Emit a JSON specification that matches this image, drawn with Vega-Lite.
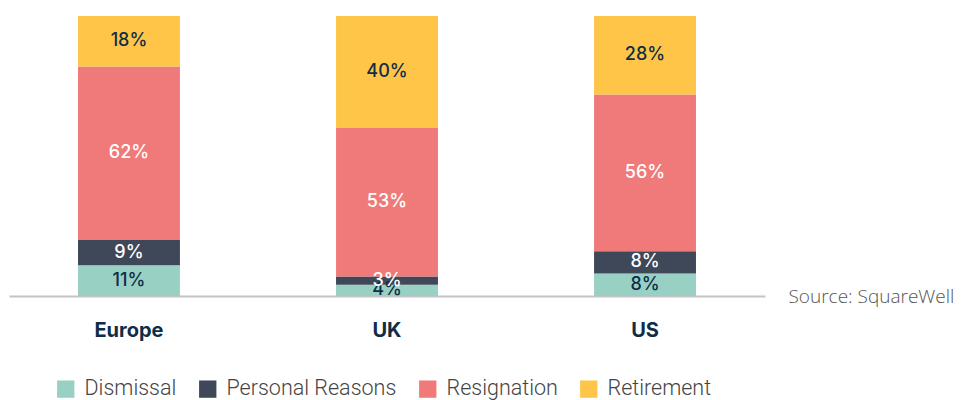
{
  "$schema": "https://vega.github.io/schema/vega-lite/v6.json",
  "width": 756,
  "height": 280,
  "autosize": "none",
  "padding": {"left": 9, "top": 16, "right": 197, "bottom": 104},
  "background": "white",
  "config": {"view": {"stroke": null}},
  "data": {
    "values": [
      {"region": "Europe", "category": "Dismissal", "value": 11},
      {"region": "Europe", "category": "Personal Reasons", "value": 9},
      {"region": "Europe", "category": "Resignation", "value": 62},
      {"region": "Europe", "category": "Retirement", "value": 18},
      {"region": "UK", "category": "Dismissal", "value": 4},
      {"region": "UK", "category": "Personal Reasons", "value": 3},
      {"region": "UK", "category": "Resignation", "value": 53},
      {"region": "UK", "category": "Retirement", "value": 40},
      {"region": "US", "category": "Dismissal", "value": 8},
      {"region": "US", "category": "Personal Reasons", "value": 8},
      {"region": "US", "category": "Resignation", "value": 56},
      {"region": "US", "category": "Retirement", "value": 28}
    ]
  },
  "transform": [
    {"stack": "value", "groupby": ["region"], "sort": [{"field": "category", "order": "ascending"}], "as": ["y0", "y1"]},
    {"calculate": "(datum.y0 + datum.y1) / 2", "as": "ymid"},
    {"calculate": "datum.value + '%'", "as": "label"}
  ],
  "encoding": {
    "x": {
      "field": "region",
      "type": "nominal",
      "sort": ["Europe", "UK", "US"],
      "scale": {"paddingInner": 0.605, "paddingOuter": 0.2675},
      "axis": {
        "title": "Source: SquareWell",
        "titleX": 779,
        "titleY": 0,
        "titleAlign": "left",
        "titleBaseline": "middle",
        "titleAnchor": null,
        "titleFont": "Open Sans",
        "titleFontSize": 19,
        "titleFontWeight": 300,
        "titleColor": "#555555",
        "labelAngle": 0,
        "labelFont": "Inter",
        "labelFontSize": 20,
        "labelFontWeight": "bold",
        "labelColor": "#0f2d47",
        "labelPadding": 24,
        "ticks": false,
        "domain": true,
        "domainColor": "#c4c4c4",
        "domainWidth": 2
      }
    }
  },
  "layer": [
    {
      "mark": {"type": "bar"},
      "encoding": {
        "y": {"field": "y0", "type": "quantitative", "scale": {"domain": [0, 100]}, "axis": null},
        "y2": {"field": "y1"},
        "color": {
          "field": "category",
          "type": "nominal",
          "scale": {
            "domain": ["Dismissal", "Personal Reasons", "Resignation", "Retirement"],
            "range": ["#98d0c4", "#3e4858", "#f07a7a", "#fec548"]
          },
          "legend": {
            "orient": "none",
            "legendX": 46,
            "legendY": 362,
            "direction": "horizontal",
            "title": null,
            "symbolType": "square",
            "symbolSize": 300,
            "symbolStrokeWidth": 0,
            "symbolOffset": 0,
            "labelOffset": 8,
            "labelLimit": 0,
            "labelFont": "Roboto",
            "labelFontWeight": 300,
            "labelFontSize": 21.5,
            "labelColor": "#444444",
            "columnPadding": 20
          }
        }
      }
    },
    {
      "mark": {"type": "text", "font": "Inter", "fontSize": 18, "fontWeight": 500, "baseline": "middle", "align": "center"},
      "encoding": {
        "y": {"field": "ymid", "type": "quantitative"},
        "text": {"field": "label"},
        "color": {
          "condition": {"test": "datum.category === 'Dismissal' || datum.category === 'Retirement'", "value": "#0f2d47"},
          "value": "#ffffff"
        }
      }
    }
  ]
}
